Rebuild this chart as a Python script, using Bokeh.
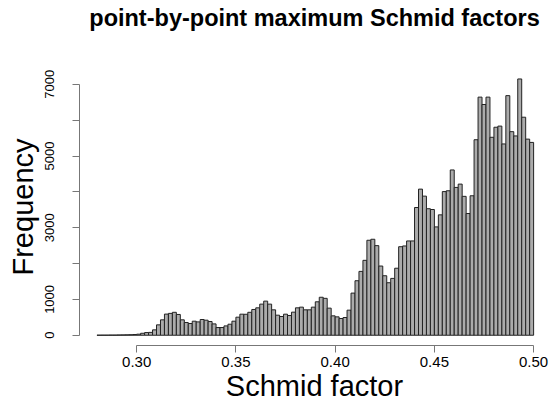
from bokeh.plotting import figure
from bokeh.models import Range1d, FixedTicker, LinearAxis, Title
from bokeh.embed import file_html
from bokeh.resources import INLINE

# histogram breaks: 0.280 .. 0.500 by 0.002
bin_start = 0.28
bin_width = 0.002
counts = [
    2, 3, 3, 5, 5, 8, 10, 12, 15, 20,
    30, 55, 75, 80, 150, 290, 430, 590, 610, 640,
    580, 430, 355, 327, 392, 373, 439, 420, 383, 317,
    215, 215, 261, 308, 392, 504, 588, 585, 640, 719,
    765, 868, 952, 868, 709, 560, 523, 588, 551, 644,
    765, 784, 709, 709, 784, 933, 1060, 1030, 756, 541,
    513, 467, 495, 700, 1176, 1521, 1782, 2090, 2650, 2678,
    2500, 1931, 1660, 1465, 1586, 1870, 2470, 2491, 2631, 2631,
    3564, 4077, 3881, 3530, 3508, 3023, 3359, 4008, 4031, 4612,
    4124, 4217, 3875, 3396, 3891, 5455, 6643, 6438, 6643, 5523,
    5803, 5835, 5337, 6685, 5680, 5561, 7150, 6083, 5472, 5380,
]
x_ticks = [0.30, 0.35, 0.40, 0.45, 0.50]
x_tick_labels = ["0.30", "0.35", "0.40", "0.45", "0.50"]
y_ticks = [0, 1000, 2000, 3000, 4000, 5000, 6000, 7000]
y_tick_labels = ["0", "1000", "", "3000", "", "5000", "", "7000"]

title_text = "point-by-point maximum Schmid factors"
x_label = "Schmid factor"
y_label = "Frequency"

left = [bin_start + i * bin_width for i in range(len(counts))]
right = [l + bin_width for l in left]
bottom = [0] * len(counts)

FONT = "Liberation Sans"
AXIS_COLOR = "#777777"

X0, X1 = 0.2712, 0.508
Y0, Y1 = -286, 7442

p = figure(width=549, height=408, output_backend="svg", toolbar_location=None,
           x_range=Range1d(X0, X1), y_range=Range1d(Y0, Y1),
           min_border_left=79, min_border_right=0, min_border_top=68, min_border_bottom=63,
           x_axis_location=None, y_axis_location=None, title_location=None)
p.outline_line_color = None
p.background_fill_color = "white"
p.border_fill_color = "white"
p.grid.visible = False

p.quad(left=left, right=right, top=counts, bottom=bottom,
       fill_color="#ababab", line_color="#222222", line_width=1)

xaxis = LinearAxis(ticker=FixedTicker(ticks=x_ticks), bounds=(0.30, 0.50))
xaxis.major_label_overrides = {t: s for t, s in zip(x_ticks, x_tick_labels)}
yaxis = LinearAxis(ticker=FixedTicker(ticks=y_ticks), bounds=(0, 7000))
yaxis.major_label_overrides = {t: s for t, s in zip(y_ticks, y_tick_labels)}
yaxis.major_label_orientation = "vertical"

for ax in (xaxis, yaxis):
    ax.axis_line_color = AXIS_COLOR
    ax.major_tick_line_color = AXIS_COLOR
    ax.minor_tick_line_color = None
    ax.major_tick_in = 0
    ax.major_tick_out = 7
    ax.major_label_text_font = FONT
    ax.major_label_text_color = "black"
    ax.axis_label_text_font = FONT
    ax.axis_label_text_font_style = "normal"
    ax.axis_label_text_color = "black"
    ax.axis_label_text_font_size = "29px"

xaxis.axis_label = x_label
xaxis.major_label_text_font_size = "15px"
xaxis.major_label_standoff = 4
xaxis.axis_label_standoff = 0
yaxis.axis_label = y_label
yaxis.major_label_text_font_size = "13px"
yaxis.major_label_standoff = 18
yaxis.axis_label_standoff = 4

p.add_layout(xaxis, "below")
p.add_layout(yaxis, "left")

# spacer between frame and title (closest to the frame), then the title
spacer = Title(text=" ", text_font_size="32px", standoff=0)
p.add_layout(spacer, "above")
main_title = Title(text=title_text, align="center", text_font=FONT,
                   text_font_style="bold", text_color="black",
                   text_font_size="23.5px", standoff=0)
p.add_layout(main_title, "above")

open("out.html", "w").write(file_html(p, INLINE))
